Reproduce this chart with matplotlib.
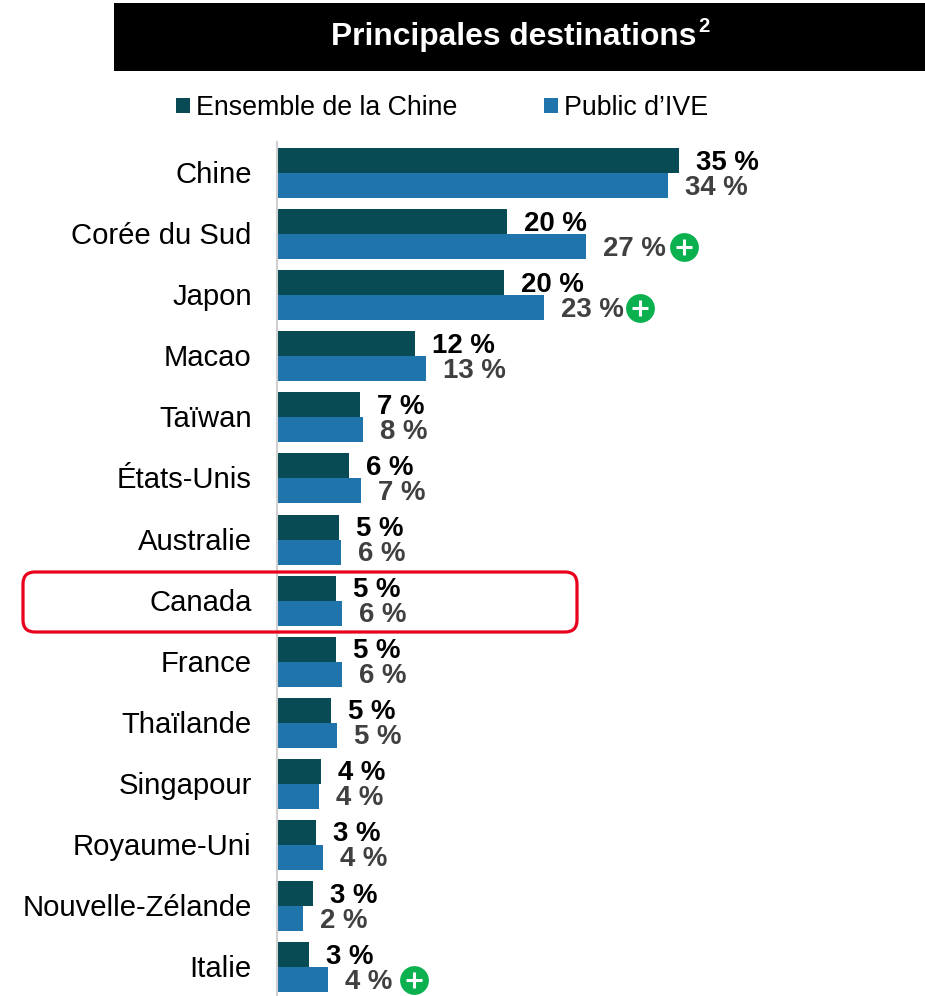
import matplotlib
matplotlib.use("Agg")
import matplotlib.pyplot as plt
from matplotlib.patches import Rectangle, FancyBboxPatch
from matplotlib.transforms import offset_copy, IdentityTransform, ScaledTranslation

plt.rcParams['font.family'] = ['Liberation Sans', 'DejaVu Sans']

categories = ["Chine", "Corée du Sud", "Japon", "Macao", "Taïwan", "États-Unis", "Australie",
              "Canada", "France", "Thaïlande", "Singapour", "Royaume-Uni", "Nouvelle-Zélande", "Italie"]
ensemble = [35.0, 20.0, 19.8, 12.0, 7.2, 6.3, 5.4, 5.1, 5.1, 4.7, 3.8, 3.4, 3.1, 2.8]
public = [34.1, 26.9, 23.3, 13.0, 7.5, 7.3, 5.6, 5.7, 5.7, 5.2, 3.7, 4.0, 2.3, 4.4]
ensemble_labels = ["35 %", "20 %", "20 %", "12 %", "7 %", "6 %", "5 %", "5 %", "5 %", "5 %", "4 %", "3 %", "3 %", "3 %"]
public_labels = ["34 %", "27 %", "23 %", "13 %", "8 %", "7 %", "6 %", "6 %", "6 %", "5 %", "4 %", "4 %", "2 %", "4 %"]
plus_flags = ["Corée du Sud", "Japon", "Italie"]
series_names = ["Ensemble de la Chine", "Public d’IVE"]

DARK, BLUE, GREY, GREEN, RED = "#084B54", "#2074AC", "#404040", "#0BB04F", "#E8001C"
W, H = 925, 996
PITCH = 61.08
BAR_H = 25 / PITCH
PLUS_OFFSET = {"Corée du Sud": 98, "Japon": 96, "Italie": 86}

fig = plt.figure(figsize=(W / 100, H / 100), dpi=100, facecolor="white")
ax = fig.add_axes([277 / W, 0, 1 - 277 / W, (996 - 142) / H])
ax.patch.set_visible(False)

ypos = list(range(len(categories)))
b1 = ax.barh([y - BAR_H / 2 for y in ypos], ensemble, height=BAR_H, color=DARK, label=series_names[0])
b2 = ax.barh([y + BAR_H / 2 for y in ypos], public, height=BAR_H, color=BLUE, label=series_names[1])
ax.set_xlim(0, 648 / 11.48)
ax.set_ylim(13 + 28.9 / PITCH, -31 / PITCH)

ax.set_yticks(ypos, categories, fontsize=21.1, color="black")
ax.set_xticks([])
ax.tick_params(axis='y', length=0, pad=18.2)
for lab in ax.get_yticklabels():
    lab.set_transform(lab.get_transform() + ScaledTranslation(0, 1 / 100, fig.dpi_scale_trans))
for s in ("top", "right", "bottom"):
    ax.spines[s].set_visible(False)
ax.spines["left"].set_color("#D0D0D0")
ax.spines["left"].set_linewidth(1.5)

for y, c, v1, v2, l1, l2 in zip(ypos, categories, ensemble, public, ensemble_labels, public_labels):
    ax.annotate(l1, (v1, y - BAR_H / 2), xytext=(17, -2), textcoords="offset pixels",
                ha="left", va="center", fontsize=19.9, fontweight="bold", color="black")
    ax.annotate(l2, (v2, y + BAR_H / 2), xytext=(17, -2), textcoords="offset pixels",
                ha="left", va="center", fontsize=19.9, fontweight="bold", color=GREY)
    if c in plus_flags:
        tr = offset_copy(ax.transData, fig=fig, x=PLUS_OFFSET[c] * 0.72, y=0, units="points")
        ax.scatter([v2], [y + BAR_H / 2], s=430, color=GREEN, linewidths=0, transform=tr, zorder=5, clip_on=False)
        ax.scatter([v2], [y + BAR_H / 2], s=130, marker="+", color="white", linewidths=2.2, transform=tr, zorder=6, clip_on=False)

# title band
fig.add_artist(Rectangle((114 / W, 1 - 71 / H), (W - 114) / W, 68 / H, transform=fig.transFigure,
                         facecolor="black", edgecolor="none", zorder=1))
fig.text(331 / W, 1 - 37 / H, "Principales destinations", color="white", fontsize=22.9, fontweight="bold",
         ha="left", va="center", zorder=2)
fig.text(698 / W, 1 - 27 / H, "2", color="white", fontsize=14.5, fontweight="bold", ha="left", va="center", zorder=2)

# legend
fig.legend(handles=[b1, b2], labels=series_names, ncol=2, frameon=False, fontsize=19.3,
           loc="center left", bbox_to_anchor=(176 / W, 1 - 108 / H), borderaxespad=0, borderpad=0,
           handlelength=0.52, handleheight=0.52, handletextpad=0.22, columnspacing=3.25)

# highlight box
box = FancyBboxPatch((33, H - 622), 534, 40, boxstyle="round,pad=10,rounding_size=12",
                     facecolor="none", edgecolor=RED, linewidth=2.3, zorder=4)
box.set_transform(IdentityTransform())
fig.add_artist(box)

fig.savefig("out.png", dpi=100)
